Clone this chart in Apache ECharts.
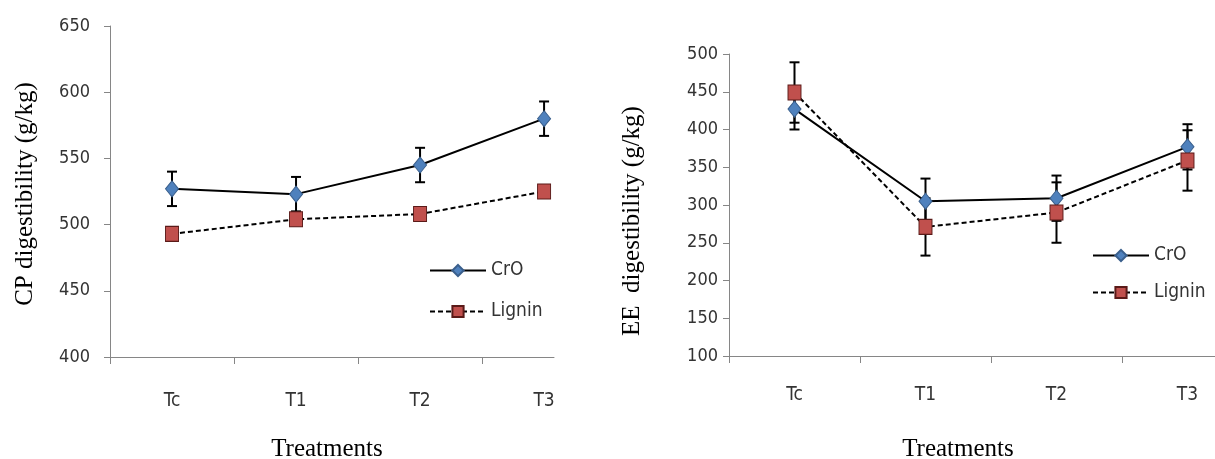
<!DOCTYPE html>
<html>
<head>
<meta charset="utf-8">
<script src="https://cdn.jsdelivr.net/npm/echarts@6/dist/echarts.min.js"></script>
<style>
html,body{margin:0;padding:0;background:#fff;}
#c{width:1215px;height:459px;}
</style>
</head>
<body>
<div id="c"></div>
<script>
// ---- data ----
const categories = ['Tc', 'T1', 'T2', 'T3'];
const cpCrO = [527, 523, 545, 580];
const cpCrOErr = [13, 13, 13, 13];
const cpLignin = [493, 504, 508, 525];
const cpLigninErr = [4, 4, 4, 4];
const eeCrO = [427, 305, 309, 377];
const eeCrOErr = [27, 30, 30, 30];
const eeLignin = [449, 271, 290, 359];
const eeLigninErr = [40, 38, 40, 40];
const cpTicks = [400, 450, 500, 550, 600, 650];
const eeTicks = [100, 150, 200, 250, 300, 350, 400, 450, 500];
const seriesNames = ['CrO', 'Lignin'];
const xTitle = 'Treatments';
const cpTitle = 'CP digestibility (g/kg)';
const eeTitle = 'EE  digestibility (g/kg)';

// ---- helpers ----
const labelFont = '"Liberation Sans Narrow","DejaVu Sans Condensed","Liberation Sans",sans-serif';
const serifFont = '"Liberation Serif","DejaVu Serif",serif';
const axisColor = '#868686';
const pts = arr => arr.map((v, i) => [i, v]);
const errData = (vals, errs) => vals.map((v, i) => [i, v - errs[i], v + errs[i]]);

function errorSeries(xi, yi, vals, errs) {
  return {
    type: 'custom',
    xAxisIndex: xi, yAxisIndex: yi,
    z: 1,
    silent: true,
    data: errData(vals, errs),
    renderItem: function (params, api) {
      const x = api.value(0);
      const lo = api.coord([x, api.value(1)]);
      const hi = api.coord([x, api.value(2)]);
      const w = 5;
      const style = { stroke: '#000', lineWidth: 2, fill: null };
      return {
        type: 'group',
        children: [
          { type: 'line', shape: { x1: lo[0], y1: lo[1], x2: hi[0], y2: hi[1] }, style },
          { type: 'line', shape: { x1: lo[0] - w, y1: lo[1], x2: lo[0] + w, y2: lo[1] }, style },
          { type: 'line', shape: { x1: hi[0] - w, y1: hi[1], x2: hi[0] + w, y2: hi[1] }, style }
        ]
      };
    }
  };
}

function lineSeries(name, xi, yi, vals, dashed) {
  const isCrO = !dashed;
  return {
    name: name,
    type: 'line',
    xAxisIndex: xi, yAxisIndex: yi,
    z: 3,
    data: pts(vals),
    symbol: isCrO ? 'diamond' : 'rect',
    symbolSize: isCrO ? [13, 16] : [13, 15],
    showAllSymbol: true,
    lineStyle: { color: '#000', width: 2, type: dashed ? [5, 3] : 'solid' },
    itemStyle: {
      color: isCrO ? '#4F81BD' : '#C0504D',
      borderColor: isCrO ? '#3A5F8C' : '#5a1a18',
      borderWidth: 1
    },
    emphasis: { disabled: true },
    animation: false
  };
}

function xAxisCfg(gi, max, margin) {
  return {
    type: 'value', gridIndex: gi, min: -0.5, max: max,
    axisLine: { show: true, onZero: false, lineStyle: { color: axisColor, width: 1 } },
    axisTick: { show: true, length: 7, customValues: [-0.5, 0.5, 1.5, 2.5], lineStyle: { color: axisColor } },
    axisLabel: {
      customValues: [0, 1, 2, 3],
      formatter: v => categories[Math.round(v)],
      margin: margin, fontFamily: labelFont, fontSize: 19, color: '#333'
    },
    splitLine: { show: false }
  };
}

function yAxisCfg(gi, ticks, margin) {
  return {
    type: 'value', gridIndex: gi,
    min: ticks[0], max: ticks[ticks.length - 1], interval: ticks[1] - ticks[0],
    axisLine: { show: true, onZero: false, lineStyle: { color: axisColor, width: 1 } },
    axisTick: { show: true, length: 6, lineStyle: { color: axisColor } },
    axisLabel: { margin: margin, fontFamily: labelFont, fontSize: 18, color: '#333' },
    splitLine: { show: false }
  };
}

const titleFont = '25px ' + serifFont;
const chart = echarts.init(document.getElementById('c'), null, { renderer: 'canvas' });
chart.setOption({
  animation: false,
  backgroundColor: '#fff',
  grid: [
    { left: 110, top: 26, width: 444, height: 331 },
    { left: 729, top: 54, width: 486, height: 302 }
  ],
  xAxis: [xAxisCfg(0, 3.08, 35), xAxisCfg(1, 3.21, 30)],
  yAxis: [yAxisCfg(0, cpTicks, 20), yAxisCfg(1, eeTicks, 11)],
  legend: [
    {
      data: seriesNames.map(n => ({ name: n })),
      orient: 'vertical', left: 424, top: 256, itemGap: 22,
      itemWidth: 56, itemHeight: 14,
      textStyle: { fontFamily: labelFont, fontSize: 19, color: '#333' },
      selectedMode: false
    },
    {
      data: seriesNames.map(n => ({ name: n })),
      orient: 'vertical', left: 1087, top: 241, itemGap: 18,
      itemWidth: 56, itemHeight: 14,
      textStyle: { fontFamily: labelFont, fontSize: 19, color: '#333' },
      selectedMode: false
    }
  ],
  graphic: [
    { type: 'text', style: { text: cpTitle, font: titleFont, fill: '#000', align: 'center', verticalAlign: 'middle' },
      x: 25, y: 194, rotation: Math.PI / 2 },
    { type: 'text', style: { text: eeTitle, font: titleFont, fill: '#000', align: 'center', verticalAlign: 'middle' },
      x: 632, y: 221, rotation: Math.PI / 2 },
    { type: 'text', style: { text: xTitle, font: titleFont, fill: '#000', align: 'center', verticalAlign: 'middle' },
      x: 327, y: 449 },
    { type: 'text', style: { text: xTitle, font: titleFont, fill: '#000', align: 'center', verticalAlign: 'middle' },
      x: 958, y: 449 }
  ],
  series: [
    errorSeries(0, 0, cpCrO, cpCrOErr),
    errorSeries(0, 0, cpLignin, cpLigninErr),
    lineSeries(seriesNames[0], 0, 0, cpCrO, false),
    lineSeries(seriesNames[1], 0, 0, cpLignin, true),
    errorSeries(1, 1, eeCrO, eeCrOErr),
    errorSeries(1, 1, eeLignin, eeLigninErr),
    lineSeries(seriesNames[0], 1, 1, eeCrO, false),
    lineSeries(seriesNames[1], 1, 1, eeLignin, true)
  ]
});
</script>
</body>
</html>
